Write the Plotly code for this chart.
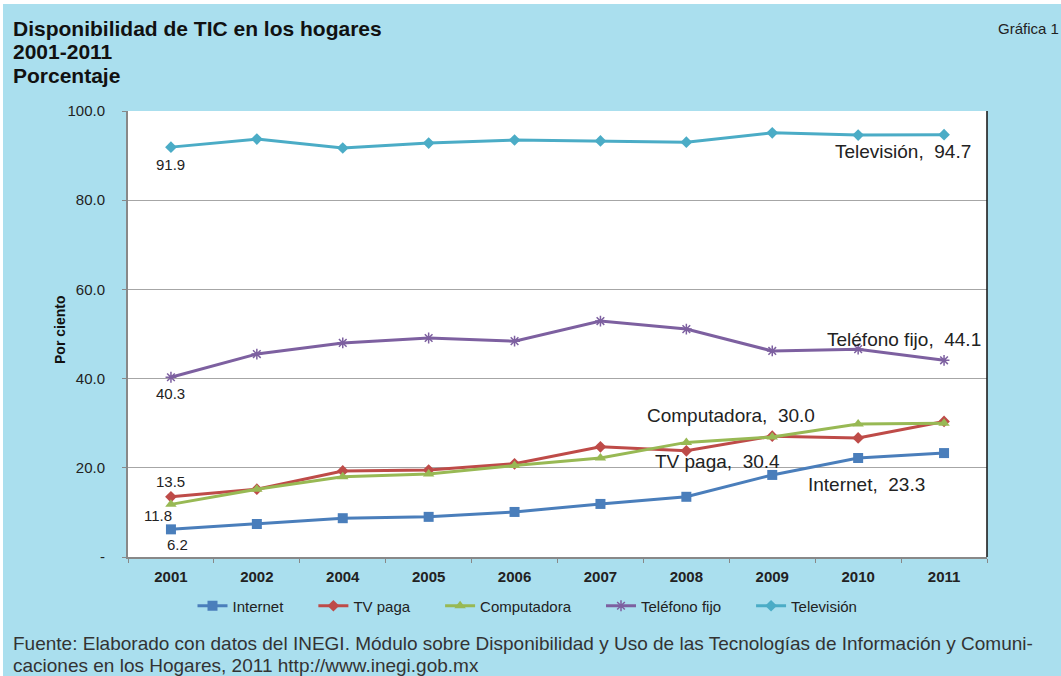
import plotly.graph_objects as go

years = ["2001", "2002", "2004", "2005", "2006", "2007", "2008", "2009", "2010", "2011"]
internet = [6.2, 7.4, 8.7, 9.0, 10.1, 11.9, 13.5, 18.4, 22.2, 23.3]
tv_paga = [13.5, 15.2, 19.3, 19.5, 20.9, 24.7, 23.8, 27.1, 26.7, 30.4]
computadora = [11.8, 15.2, 18.0, 18.6, 20.5, 22.2, 25.7, 26.9, 29.8, 30.0]
telefono = [40.3, 45.5, 48.0, 49.1, 48.4, 52.9, 51.1, 46.2, 46.6, 44.1]
television = [91.9, 93.7, 91.7, 92.8, 93.5, 93.3, 93.0, 95.1, 94.6, 94.7]
y_ticks = [0, 20, 40, 60, 80, 100]
y_tick_labels = ["-", "20.0", "40.0", "60.0", "80.0", "100.0"]

FONT = "Liberation Sans, Arial, sans-serif"
BG = "#aadfee"
PAD = "\u00a0" * 6  # spacing between legend entries

series = [
    ("Internet", internet, "#4a7ebb", dict(symbol="square", size=10)),
    ("TV paga", tv_paga, "#be4b48", dict(symbol="diamond", size=9)),
    ("Computadora", computadora, "#98b954", dict(symbol="triangle-up", size=10)),
    ("Teléfono fijo", telefono, "#7d60a0", dict(symbol="asterisk-open", size=9, line=dict(width=1.5, color="#7d60a0"))),
    ("Televisión", television, "#4bacc6", dict(symbol="diamond", size=9)),
]

fig = go.Figure()
for name, vals, col, mk in series:
    mk = dict(mk)
    mk["color"] = col
    fig.add_trace(go.Scatter(x=years, y=vals, name=name + PAD, mode="lines+markers",
                             line=dict(color=col, width=3), marker=mk))

ann = []
small = dict(family=FONT, size=15, color="#222222")
big = dict(family=FONT, size=19, color="#222222")
last = len(years) - 1
# first-point value labels (x given as category index)
ann.append(dict(x=0, y=television[0], text=f"{television[0]:.1f}", yshift=-17, font=small))
ann.append(dict(x=0, y=telefono[0], text=f"{telefono[0]:.1f}", yshift=-16, font=small))
ann.append(dict(x=0, y=tv_paga[0], text=f"{tv_paga[0]:.1f}", yshift=15, font=small))
ann.append(dict(x=0, y=computadora[0], text=f"{computadora[0]:.1f}", yshift=-11, xshift=-13, font=small))
ann.append(dict(x=0, y=internet[0], text=f"{internet[0]:.1f}", yshift=-15, xshift=7, font=small))
# end labels
ann.append(dict(x=last, y=television[-1], text=f"Televisión,  {television[-1]:.1f}", xshift=-41, yshift=-17, font=big))
ann.append(dict(x=last, y=telefono[-1], text=f"Teléfono fijo,  {telefono[-1]:.1f}", xshift=-40, yshift=21, font=big))
ann.append(dict(x=6, y=computadora[-1], text=f"Computadora,  {computadora[-1]:.1f}", xshift=45, yshift=8, font=big))
ann.append(dict(x=6, y=tv_paga[-1], text=f"TV paga,  {tv_paga[-1]:.1f}", xshift=31, yshift=-40, font=big))
ann.append(dict(x=8, y=internet[-1], text=f"Internet,  {internet[-1]:.1f}", xshift=8, yshift=-31, font=big))
for a in ann:
    a.update(xref="x", yref="y", showarrow=False)

W, H = 1061, 676
L, R, T, B = 128, 74, 111, 119
pw, ph = W - L - R, H - T - B
def px(x):
    return (x - L) / pw
def py(y):
    return (H - B - y) / ph

title_font = dict(family=FONT, size=21, color="#111111", weight="bold")
for i, t in enumerate(["Disponibilidad de TIC en los hogares", "2001-2011", "Porcentaje"]):
    ann.append(dict(xref="paper", yref="paper", x=px(11), y=py(28 + 23.5 * i), text=t, showarrow=False,
                    xanchor="left", yanchor="middle", font=title_font))
ann.append(dict(xref="paper", yref="paper", x=px(996), y=py(29), text="Gráfica 1", showarrow=False,
                xanchor="left", yanchor="middle", font=dict(family=FONT, size=15, color="#222222")))
foot = dict(family=FONT, size=19, color="#333333")
ann.append(dict(xref="paper", yref="paper", x=px(11), y=py(643),
                text="Fuente: Elaborado con datos del INEGI. Módulo sobre Disponibilidad y Uso de las Tecnologías de Información y Comuni-",
                showarrow=False, xanchor="left", yanchor="middle", font=foot))
ann.append(dict(xref="paper", yref="paper", x=px(11), y=py(665),
                text="caciones en los Hogares, 2011 http://www.inegi.gob.mx",
                showarrow=False, xanchor="left", yanchor="middle", font=foot))
ann.append(dict(xref="paper", yref="paper", x=px(60), y=py(330), text="Por ciento", textangle=-90,
                showarrow=False, xanchor="center", yanchor="middle",
                font=dict(family=FONT, size=14, color="#111111", weight="bold")))

shapes = [
    dict(type="rect", xref="paper", yref="paper", x0=px(-5), x1=px(W + 5), y0=py(-5), y1=py(4),
         fillcolor="white", line=dict(width=0), layer="below"),
    dict(type="rect", xref="paper", yref="paper", x0=px(-5), x1=px(3), y0=py(-5), y1=py(H + 5),
         fillcolor="white", line=dict(width=0), layer="below"),
    dict(type="line", xref="paper", yref="paper", x0=1, x1=1, y0=0, y1=1,
         line=dict(color="#111111", width=1.5)),
]

fig.update_layout(
    width=W, height=H,
    margin=dict(l=L, r=R, t=T, b=B),
    paper_bgcolor=BG, plot_bgcolor="white",
    annotations=ann, shapes=shapes,
    showlegend=True,
    legend=dict(orientation="h", x=px(540), xanchor="center", y=py(606), yanchor="middle",
                font=dict(family=FONT, size=15, color="#222222"), bgcolor="rgba(0,0,0,0)",
                itemwidth=30, tracegroupgap=0),
    font=dict(family=FONT),
)
fig.update_xaxes(type="category", range=[-0.5, 9.5], showgrid=False, showline=True,
                 linecolor="#888888", linewidth=2, ticks="outside", tickson="boundaries",
                 ticklen=4, tickcolor="#888888", ticklabelstandoff=5,
                 tickfont=dict(family=FONT, size=15, color="#222222", weight="bold"))
fig.update_yaxes(range=[0, 100], tickvals=y_ticks, ticktext=y_tick_labels, showgrid=True,
                 gridcolor="#a6a6a6", gridwidth=1, showline=True, linecolor="#888888", linewidth=2,
                 ticks="outside", ticklen=4, tickcolor="#888888", zeroline=False,
                 tickfont=dict(family=FONT, size=15, color="#222222"), ticklabelstandoff=14)

fig.write_html("out.html", config={"displayModeBar": False},
               post_script="document.body.style.margin='0';")
